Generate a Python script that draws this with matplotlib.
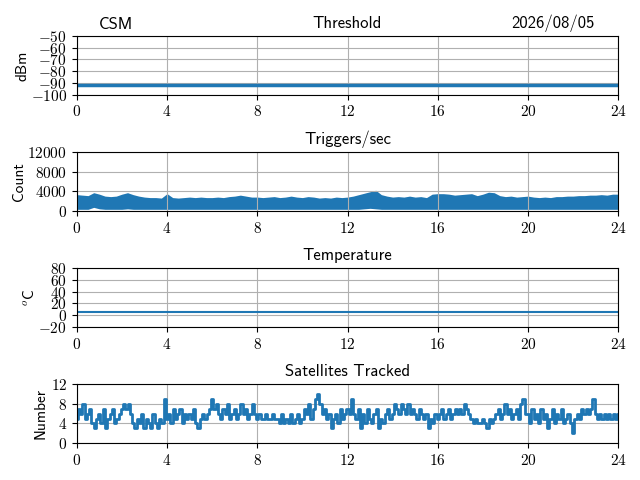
import numpy as np
import matplotlib
matplotlib.use("Agg")
import matplotlib.pyplot as plt

plt.rcParams["font.family"] = "serif"
plt.rcParams["font.serif"] = ["cmr10"]
plt.rcParams["mathtext.fontset"] = "cm"
plt.rcParams["axes.formatter.use_mathtext"] = True
plt.rcParams["font.size"] = 11

SANS = "cmss10"

# Threshold (dBm) and temperature (deg C) are flat over the day
threshold_hours = [0, 24]
threshold_dbm = [-92, -92]
temp_hours = [0, 24]
temp_c = [5, 5]

trig_hours = [i * 0.25 for i in range(97)]
trig_high = [3300, 3200, 3100, 3700,
             3400, 3000, 2900, 3000,
             3400, 3700, 3300, 3000,
             2800, 2700, 2700, 2600,
             3500, 2700, 2600, 2700,
             2800, 2700, 2800, 2700,
             2700, 2800, 2700, 2900,
             3000, 3200, 3000, 2800,
             2800, 2700, 2800, 2900,
             2700, 2800, 3000, 2800,
             2700, 2900, 2800, 2600,
             2700, 2600, 2800, 2700,
             2800, 3000, 3300, 3600,
             3900, 4200, 3300, 3000,
             2800, 2900, 2800, 3000,
             2800, 2900, 2700, 3400,
             3500, 3500, 3400, 3200,
             3300, 3400, 3500, 3100,
             3400, 3800, 3700, 3100,
             2900, 3000, 2800, 2900,
             3000, 2800, 2700, 2800,
             2700, 2900, 2900, 3000,
             3000, 3100, 3100, 3200,
             3200, 3300, 3200, 3400,
             3400]
trig_low = [300, 300, 300, 700,
            400, 300, 300, 300,
            300, 400, 300, 300,
            300, 300, 300, 300,
            300, 300, 300, 300,
            300, 300, 300, 300,
            300, 300, 300, 300,
            300, 300, 300, 300,
            300, 300, 300, 300,
            300, 300, 300, 300,
            300, 300, 300, 300,
            300, 300, 300, 300,
            300, 300, 300, 400,
            500, 400, 300, 300,
            300, 300, 300, 300,
            300, 300, 300, 300,
            300, 300, 300, 300,
            300, 300, 300, 300,
            300, 300, 300, 300,
            300, 300, 300, 300,
            300, 300, 300, 300,
            300, 300, 300, 300,
            300, 300, 300, 300,
            300, 300, 300, 300,
            300]

# Satellites tracked, read every 0.1 h
sat_hours = [i * 0.1 for i in range(241)]
sat_count = [5, 7, 6, 8, 5, 6, 7, 4, 3, 5,
             6, 4, 7, 3, 5, 6, 7, 4, 5, 6,
             7, 8, 7, 8, 6, 4, 3, 5, 4, 6,
             3, 5, 4, 3, 6, 4, 3, 5, 4, 9,
             5, 6, 4, 7, 5, 6, 7, 4, 6, 5,
             6, 5, 7, 4, 3, 5, 6, 5, 6, 7,
             9, 7, 8, 6, 5, 7, 6, 8, 5, 6,
             7, 5, 6, 8, 6, 7, 5, 6, 8, 6,
             5, 6, 5, 5, 6, 5, 5, 6, 5, 5,
             4, 6, 4, 5, 4, 6, 4, 5, 6, 4,
             5, 7, 6, 8, 5, 7, 9, 10, 8, 6,
             7, 5, 6, 3, 5, 6, 4, 7, 5, 6,
             7, 6, 9, 6, 5, 7, 3, 6, 4, 7,
             5, 4, 6, 7, 3, 5, 4, 6, 7, 5,
             6, 8, 7, 6, 8, 7, 6, 8, 6, 7,
             6, 5, 7, 6, 5, 6, 3, 5, 4, 6,
             5, 6, 7, 5, 6, 7, 5, 6, 7, 6,
             7, 6, 8, 7, 6, 5, 4, 5, 4, 4,
             5, 4, 3, 5, 4, 5, 6, 7, 5, 6,
             8, 6, 7, 5, 6, 7, 5, 8, 9, 6,
             6, 4, 7, 5, 6, 4, 7, 5, 6, 3,
             5, 7, 4, 6, 5, 7, 4, 5, 6, 4,
             2, 5, 6, 5, 7, 6, 7, 6, 7, 9,
             6, 5, 6, 5, 6, 5, 6, 5, 6, 5,
             6]

hour_ticks = [0, 4, 8, 12, 16, 20, 24]
blue = "#1f77b4"

fig, axes = plt.subplots(4, 1, figsize=(6.4, 4.8), dpi=100)
fig.subplots_adjust(left=0.12, right=0.966, top=0.925, bottom=0.077, hspace=0.98)

ax = axes[0]
ax.plot(threshold_hours, threshold_dbm, color=blue, lw=2.5)
ax.set_ylim(-100, -50)
ax.set_yticks([-100, -90, -80, -70, -60, -50])
ax.set_ylabel("dBm", family=SANS, labelpad=1)
ax.set_title("Threshold", family=SANS, fontsize=12)
ax.text(0.04, 1.06, "CSM", transform=ax.transAxes, ha="left", va="bottom",
        family=SANS, fontsize=12)
ax.text(0.957, 1.06, "2026/08/05", transform=ax.transAxes, ha="right",
        va="bottom", family=SANS, fontsize=12)

ax = axes[1]
ax.fill_between(trig_hours, trig_low, trig_high, color=blue, lw=0)
ax.set_ylim(0, 12000)
ax.set_yticks([0, 4000, 8000, 12000])
ax.set_ylabel("Count", family=SANS, labelpad=1)
ax.set_title("Triggers/sec", family=SANS, fontsize=12)

ax = axes[2]
ax.plot(temp_hours, temp_c, color=blue, lw=1.5)
ax.set_ylim(-20, 80)
ax.set_yticks([-20, 0, 20, 40, 60, 80])
ax.set_ylabel(r"$^o$C", family=SANS, labelpad=1)
ax.set_title("Temperature", family=SANS, fontsize=12)

ax = axes[3]
ax.plot(sat_hours, sat_count, color=blue, lw=2, drawstyle="steps-mid")
ax.set_ylim(0, 12)
ax.set_yticks([0, 4, 8, 12])
ax.set_ylabel("Number", family=SANS, labelpad=2)
ax.set_title("Satellites Tracked", family=SANS, fontsize=12)

for ax in axes:
    ax.set_xlim(0, 24)
    ax.set_xticks(hour_ticks)
    ax.grid(True)

fig.savefig("out.png", dpi=100)
